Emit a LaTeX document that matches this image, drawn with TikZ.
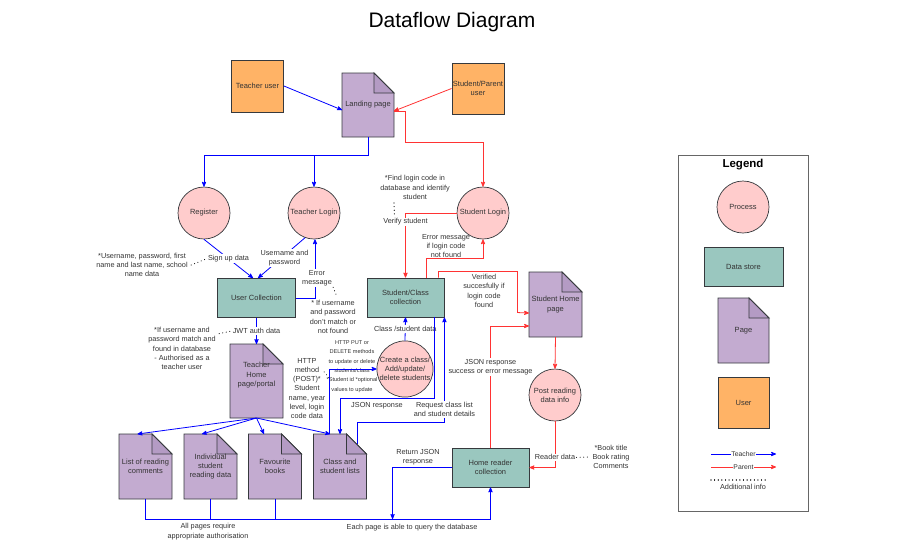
\documentclass[tikz,border=0pt]{standalone}
\usepackage{fontspec}
\setmainfont{Liberation Sans}
\usetikzlibrary{arrows}
\usetikzlibrary{backgrounds}

\definecolor{txt}{HTML}{333333}
\definecolor{edge}{HTML}{36393D}
\definecolor{userfill}{HTML}{FFB366}
\definecolor{procfill}{HTML}{FFCCCC}
\definecolor{storefill}{HTML}{9AC7BF}
\definecolor{pagefill}{HTML}{C3ABD0}
\definecolor{foldfill}{HTML}{B49BC4}
\definecolor{tblue}{HTML}{0000FF}
\definecolor{pred}{HTML}{FF3333}

\tikzset{
 base/.style={font=\fontsize{7.5}{9.3}\selectfont, text=txt, align=center},
 userbox/.style={base, draw=edge, fill=userfill, line width=0.9pt, minimum width=52pt, minimum height=52pt, inner sep=0pt},
 proc/.style={base, circle, draw=edge, fill=procfill, line width=0.7pt, minimum size=52pt, inner sep=0pt},
 store/.style={base, draw=edge, fill=storefill, line width=0.9pt, minimum width=78pt, minimum height=39pt, inner sep=0pt},
 pagebox/.style={base, minimum width=52pt, minimum height=65pt, inner sep=0pt, outer sep=0pt},
 shapeline/.style={draw=edge, line width=0.9pt},
 tl/.style={tblue, line width=0.8pt},
 tline/.style={tl, ->, >=stealth'},
 pl/.style={pred, line width=0.8pt},
 pline/.style={pl, ->, >=stealth'},
 note/.style={base, font=\fontsize{7.3}{9.3}\selectfont},
 tag/.style={note, fill=white, inner sep=1pt},
 smallnote/.style={base, font=\fontsize{5.6}{9.4}\selectfont},
 dotline/.style={black, line width=1.1pt, dash pattern=on 0.01pt off 3.6pt, line cap=round},
}

\newcommand{\pageshape}[1]{%
 \begin{scope}[on background layer]
  \filldraw[shapeline, fill=pagefill] (#1.south west) -- (#1.north west) -- ([xshift=-20pt]#1.north east)
   -- ([yshift=-20pt]#1.north east) -- (#1.south east) -- cycle;
  \filldraw[shapeline, fill=foldfill] ([xshift=-20pt]#1.north east) -- ([xshift=-20pt,yshift=-20pt]#1.north east)
   -- ([yshift=-20pt]#1.north east) -- cycle;
 \end{scope}}

\begin{document}
\begin{tikzpicture}[x=1pt, y=-1pt]
\useasboundingbox (0,0) rectangle (908,558);
\node[font=\fontsize{21}{24}\selectfont] (title) at (452,22) {Dataflow Diagram};

% users, landing page, processes, stores
\node[userbox] (teacher) at (257.5,86) {Teacher user};
\node[userbox, minimum height=51pt] (parent) at (478,88.5) {Student/Parent\\user};
\node[pagebox, minimum height=64pt] (landing) at (368,105) {Landing page};
\pageshape{landing}
\node[proc] (register) at (204,213) {Register};
\node[proc] (tlogin) at (314,213) {Teacher Login};
\node[proc] (slogin) at (483,213) {Student Login};
\node[proc] (create) at (405,369) {Create a class/\\Add/update/\\delete students};
\node[proc] (postread) at (555,395) {Post reading\\data info};
\node[store] (usercoll) at (256.5,298) {User Collection};
\node[store, minimum width=77pt] (scc) at (405.5,297.5) {Student/Class\\collection};
\node[store, minimum width=77pt] (homeread) at (490.5,467.5) {Home reader\\collection};
\node[pagebox, minimum width=53pt, minimum height=74pt] (thome) at (256.5,381) {Teacher\\Home\\page/portal\\[4pt]};
\pageshape{thome}
\node[pagebox, minimum width=53pt] (shome) at (555.5,304.5) {Student Home\\page};
\pageshape{shome}
\foreach \n/\x/\s/\lbl in {listrc/145.5/-8pt/{List of reading\\comments}, indiv/210.5/-8.5pt/{Individual\\student\\reading data},
  fav/275/-11pt/{Favourite\\books}, clist/340/-10pt/{Class and\\student lists}}{
 \node[pagebox, minimum width=53pt] (\n) at (\x,466.5) {\lbl};
 \pageshape{\n}
 \draw[tline] (thome.south) -- ([xshift=\s]\n.north);
}

% notes
\node[note] (unote) at (142,265) {*Username, password, first\\name and last name, school\\name data};
\node[note] (authnote) at (182,348.5) {*If username and\\password match and\\found in database\\- Authorised as a\\teacher user};
\node[note] (nomatch) at (333,317) {* If username\\and password\\don't match or\\not found};
\node[note] (findnote) at (415,187.5) {*Find login code in\\database and identify\\student};
\node[note] (errfound) at (446,246) {Error message\\if login code\\not found};
\node[note] (verified) at (484,291) {Verified\\succesfully if\\login code\\found};
\node[note] (httpnote) at (307,388.5) {HTTP\\method\\(POST)*\\Student\\name, year\\level, login\\code data};
\node[smallnote] (putnote) at (352,366.5) {HTTP PUT or\\DELETE methods\\to update or delete\\students/class\\*Student id *optional\\values to update};
\node[note] (jsonresp) at (377,406) {JSON response};
\node[note] (returnjson) at (418,457) {Return JSON\\response};
\node[note] (booknote) at (611,457) {*Book title\\Book rating\\Comments};
\node[note] (allpages) at (208,531.5) {All pages require\\appropriate authorisation};
\node[note] (eachpage) at (412,528) {Each page is able to query the database};

% teacher flow
\draw[tline] (teacher.east) -- ([yshift=-5pt]landing.west);
\draw[tline] (landing.south) -- ++(0,18) -| (register.north);
\draw[tline] (landing.south) -- ++(0,18) -| (tlogin.north);
\draw[tline] (register.south) -- node[tag] (signup) {Sign up data} ([xshift=-3.5pt]usercoll.north);
\draw[tline] (tlogin.250) -- node[tag, xshift=3pt] (userpw) {Username and\\password} ([xshift=1.5pt]usercoll.north);
\draw[tline] (usercoll.east) -| node[tag, pos=0.67, xshift=2pt] (errmsg) {Error\\message} ([xshift=1pt]tlogin.south);
\draw[tline] (usercoll.south) -- node[tag] (jwt) {JWT auth data} (thome.north);
\draw[tline] ([xshift=-11pt]clist.north) |- (create.west);
\draw[tline] (create.north) -- node[tag] (csdata) {Class /student data} (scc.south);
\draw[tline] ([xshift=-10pt]scc.south east) -- ++(0,81) -| (clist.north);
\draw[tline] ([xshift=-9.5pt,yshift=-10pt]clist.north east) -- ++(0,-22) -| node[tag, pos=0.56] (reqlist) {Request class list\\and student details} (scc.south east);
\draw[tline] (listrc.south) -- ++(0,20) -| (homeread.south);
\draw[tl] (indiv.south) -- ++(0,20);
\draw[tl] (fav.south) -- ++(0,20);
\draw[tline] (homeread.west) -| ++(-59,51.5);

% parent flow
\draw[pline] (parent.west) -- ([yshift=-6pt]landing.east);
\draw[pline] ([yshift=-6pt]landing.east) -- ++(11,0) -- ++(0,31) -| (slogin.north);
\draw[pline] (slogin.west) -| node[tag, pos=0.57] (verify) {Verify student} (scc.north);
\draw[pline] ([xshift=20.5pt]scc.north) -- ++(0,-19) -| (slogin.south);
\draw[pline] ([xshift=-6pt]scc.north east) -- ++(0,-6) -| ++(79,41) -- ([yshift=-8.5pt]shome.west);
\draw[pline] (homeread.north) |- node[tag, pos=0.33] (jsonsucc) {JSON response\\success or error message} ([yshift=-21.5pt]shome.west);
\draw[pline] (shome.south) -- (postread.north);
\draw[pline] (postread.south) |- node[tag, pos=0.39] (readerdata) {Reader data} (homeread.east);

% additional info dots
\draw[dotline] (unote.east) -- (signup.west);
\draw[dotline] ([yshift=-10pt]authnote.north east) -- (jwt.west);
\draw[dotline] (errmsg.south east) -- ([xshift=4pt]nomatch.north);
\draw[dotline] ([yshift=11pt]httpnote.east) -- ([yshift=-4pt]putnote.west);
\draw[dotline] ([xshift=-21pt]findnote.south) -- ([xshift=-11pt]verify.north);
\draw[dotline] (readerdata.east) -- (booknote.west);

% legend
\node[draw=black!60, line width=0.9pt, minimum width=130pt, minimum height=356pt] (legend) at (743,333) {};
\node[font=\bfseries\fontsize{11.5}{13}\selectfont] (legtitle) at (743,165) {Legend};
\node[proc] (lproc) at (743,207) {Process};
\node[store, minimum width=79pt] (lstore) at (743.5,266.5) {Data store};
\node[pagebox, minimum width=51pt] (lpage) at (743.5,330.5) {Page};
\pageshape{lpage}
\node[userbox, minimum width=51pt, minimum height=51pt] (luser) at (743.5,402.5) {User};
\coordinate (lt1) at (711,454);
\coordinate (lt2) at (776,454);
\coordinate (lp1) at (711,467);
\coordinate (lp2) at (776,467);
\coordinate (ld1) at (711,480);
\coordinate (ld2) at (768,480);
\draw[tline] (lt1) -- node[tag, font=\fontsize{6.8}{8}\selectfont, inner sep=0.5pt] (lteach) {Teacher} (lt2);
\draw[pline] (lp1) -- node[tag, font=\fontsize{6.8}{8}\selectfont, inner sep=0.5pt] (lparent) {Parent} (lp2);
\draw[dotline] (ld1) -- (ld2);
\node[note] (laddinfo) at (743,487) {Additional info};
\end{tikzpicture}
\end{document}
